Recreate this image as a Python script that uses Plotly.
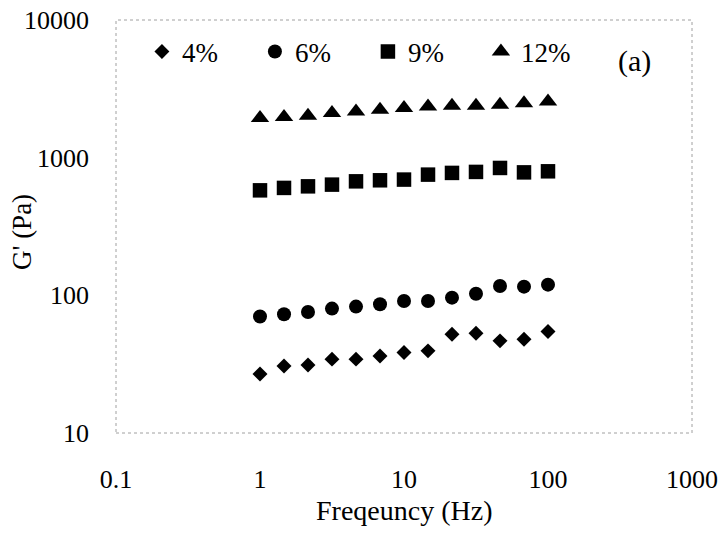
import plotly.graph_objects as go

freq = [1, 1.468, 2.154, 3.162, 4.642, 6.813, 10, 14.68, 21.54, 31.62, 46.42, 68.13, 100]
g_4 = [26.8, 30.7, 31.2, 34.4, 34.4, 36.3, 38.4, 39.5, 52.2, 53.1, 46.7, 48.0, 54.6]
g_6 = [70.1, 72.8, 75.7, 80.1, 82.8, 86.1, 91.0, 91.0, 96.2, 102.8, 116.8, 115.6, 119.6]
g_9 = [579, 603, 619, 637, 673, 685, 693, 753, 775, 788, 842, 782, 796]
g_12 = [1940, 1972, 2015, 2110, 2168, 2228, 2291, 2355, 2382, 2382, 2420, 2489, 2559]

series_names = ["4%", "6%", "9%", "12%"]
x_ticks = [0.1, 1, 10, 100, 1000]
y_ticks = [10, 100, 1000, 10000]

symbols = ["diamond", "circle", "square", "triangle-up"]
sizes = [11.5, 14, 14.5, 16]

FONT = "Liberation Serif"

fig = go.Figure()
for name, vals, sym, sz in zip(series_names, [g_4, g_6, g_9, g_12], symbols, sizes):
    fig.add_trace(go.Scatter(
        x=freq, y=vals, mode="markers", name=name,
        marker=dict(symbol=sym, size=sz, color="black"),
    ))

fig.add_shape(type="rect", xref="paper", yref="paper", x0=0, y0=0, x1=1, y1=1,
              line=dict(color="#a0a0a0", width=1, dash="dot"), layer="below")

fig.add_annotation(text="(a)", xref="paper", yref="paper", x=0.901, y=0.90,
                   xanchor="center", yanchor="middle",
                   showarrow=False, font=dict(family=FONT, size=30, color="black"))

# axis titles placed as annotations to match the reference positions
fig.add_annotation(text="Freqeuncy (Hz)", xref="paper", yref="paper", x=0.5, y=-0.188,
                   xanchor="center", yanchor="middle", showarrow=False,
                   font=dict(family=FONT, size=28, color="black"))
fig.add_annotation(text="G' (Pa)", xref="paper", yref="paper", x=-0.163, y=0.487,
                   xanchor="center", yanchor="middle", textangle=-90, showarrow=False,
                   font=dict(family=FONT, size=27, color="black"))

fig.update_layout(
    width=720, height=534,
    margin=dict(l=116, r=28, t=20, b=101, autoexpand=False),
    paper_bgcolor="white", plot_bgcolor="white",
    font=dict(family=FONT, size=26, color="black"),
    showlegend=True,
    legend=dict(orientation="h", x=0.045, y=0.9225, xanchor="left", yanchor="middle",
                entrywidth=68, entrywidthmode="pixels", bgcolor="rgba(0,0,0,0)",
                font=dict(family=FONT, size=27), itemwidth=30),
    xaxis=dict(type="log", range=[-1, 3], showgrid=False, zeroline=False,
               tickvals=x_ticks, ticktext=[str(v) for v in x_ticks],
               ticks="", ticklabelstandoff=28, showline=False,
               ticklabeloverflow="allow", automargin=False),
    yaxis=dict(type="log", range=[1, 4], showgrid=False, zeroline=False,
               tickvals=y_ticks, ticktext=[str(v) for v in y_ticks],
               ticks="", ticklabelstandoff=26, showline=False,
               ticklabeloverflow="allow", automargin=False),
)

fig.write_html("out.html", config={"displayModeBar": False},
               post_script="document.body.style.margin='0';")
